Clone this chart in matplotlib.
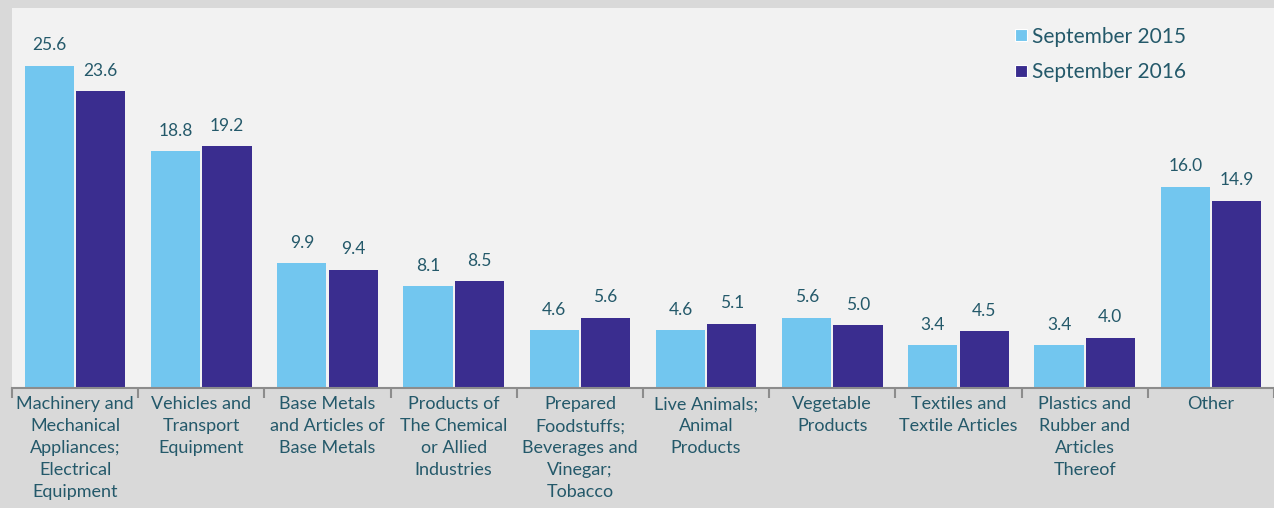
import numpy as np
import matplotlib.pyplot as plt
from matplotlib.lines import Line2D

plt.rcParams['font.family'] = ['Lato', 'DejaVu Sans']

categories = ['Machinery and\nMechanical\nAppliances;\nElectrical\nEquipment',
              'Vehicles and\nTransport\nEquipment',
              'Base Metals\nand Articles of\nBase Metals',
              'Products of\nThe Chemical\nor Allied\nIndustries',
              'Prepared\nFoodstuffs;\nBeverages and\nVinegar;\nTobacco',
              'Live Animals;\nAnimal\nProducts',
              'Vegetable\nProducts',
              'Textiles and\nTextile Articles',
              'Plastics and\nRubber and\nArticles\nThereof',
              'Other']
sep_2015 = [25.6, 18.8, 9.9, 8.1, 4.6, 4.6, 5.6, 3.4, 3.4, 16.0]
sep_2016 = [23.6, 19.2, 9.4, 8.5, 5.6, 5.1, 5.0, 4.5, 4.0, 14.9]
series_names = ['September 2015', 'September 2016']

c15 = '#72c6ef'
c16 = '#3a2d8f'
txt = '#24596a'

fig = plt.figure(figsize=(12.74, 5.08), dpi=100, facecolor='#d9d9d9')
ax = fig.add_axes([12/1274, 120/508, 1262/1274, 380/508])
ax.set_facecolor('#f2f2f2')

x = np.arange(len(categories))
w = 0.39
b1 = ax.bar(x - w/2 - 0.008, sep_2015, w, color=c15)
b2 = ax.bar(x + w/2 + 0.008, sep_2016, w, color=c16)
for bars in (b1, b2):
    ax.bar_label(bars, labels=[f'{v:.1f}' for v in bars.datavalues],
                 padding=9, color=txt, fontsize=12.5)

ax.set_xlim(-0.5, len(categories) - 0.5)
ax.set_ylim(0, 30.2)
ax.set_yticks([])
for s in ['top', 'right', 'left']:
    ax.spines[s].set_visible(False)
ax.spines['bottom'].set_color('#8c8c8c')
ax.spines['bottom'].set_linewidth(1.5)

ax.set_xticks(x)
ax.set_xticklabels(categories, color=txt, fontsize=13, linespacing=1.45)
ax.tick_params(axis='x', which='major', length=0, pad=6)
ax.set_xticks(np.arange(-0.5, len(categories)), minor=True)
ax.tick_params(axis='x', which='minor', length=7, color='#8c8c8c', width=1.5)

handles = [Line2D([], [], marker='s', linestyle='none', markersize=8,
                  markerfacecolor=c, markeredgecolor='white', markeredgewidth=0.8)
           for c in (c15, c16)]
leg = ax.legend(handles, series_names, loc='upper right', bbox_to_anchor=(0.945, 1.0),
                frameon=False, fontsize=15, handletextpad=0.1, labelspacing=0.74,
                handlelength=0.8)
for t in leg.get_texts():
    t.set_color(txt)

fig.savefig('out.png', dpi=100, facecolor=fig.get_facecolor())
